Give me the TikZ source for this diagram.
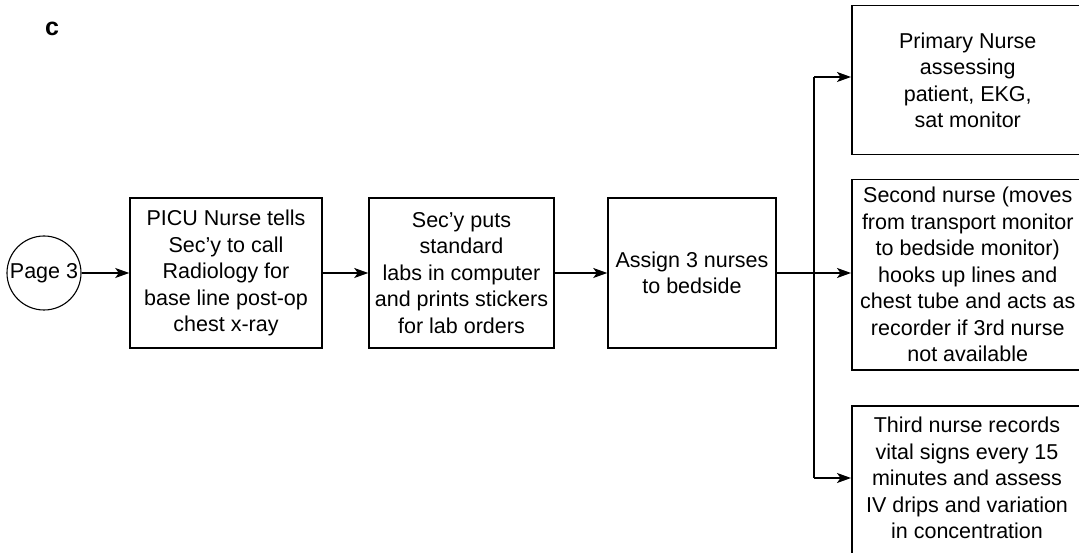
\documentclass[tikz,border=0pt]{standalone}
\usepackage{fontspec}
\setmainfont{Liberation Sans}
\usetikzlibrary{arrows.meta}
\begin{document}
\begin{tikzpicture}[x=1pt,y=-1pt,
  lbl/.style={font=\fontsize{21.5}{26.5}\selectfont},
  box/.style={draw, line width=1.5pt, align=center, inner sep=0pt, lbl},
  txt/.style={align=center, inner sep=0pt, lbl},
  arr/.style={line width=1.3pt, -{Stealth[length=14pt,width=10pt,inset=3.5pt]}},
  ln/.style={line width=1.3pt}]
\useasboundingbox (0,0) rectangle (1079,553);
\clip (0,0) rectangle (1079,553);

\node[font=\fontsize{25}{30}\selectfont\bfseries] (tag) at (52,29) {c};

\node[circle, draw, line width=1.1pt, minimum size=74pt, inner sep=0pt, lbl] (p3) at (44,273) {Page 3};

\node[box, minimum width=192pt, minimum height=150pt] (n1) at (226,273)
  {PICU Nurse tells\\Sec’y to call\\Radiology for\\base line post-op\\chest x-ray};
\node[box, minimum width=185pt, minimum height=150pt] (n2) at (461.5,273)
  {Sec’y puts\\standard\\labs in computer\\and prints stickers\\for lab orders};
\node[box, minimum width=168pt, minimum height=150pt] (n3) at (692,273)
  {Assign 3 nurses\\to bedside};

\node[box, minimum width=232pt, minimum height=149pt, anchor=north west] (n4) at (851,5)
  {Primary Nurse\\assessing\\patient, EKG,\\sat monitor};
\node[box, minimum width=232pt, minimum height=190pt, anchor=north west] (n5) at (851,179)
  {Second nurse (moves\\from transport monitor\\to bedside monitor)\\hooks up lines and\\chest tube and acts as\\recorder if 3rd nurse\\not available};
\node[box, minimum width=232pt, minimum height=170pt, anchor=north west] (n6) at (851,405) {};
\node[txt] (t6) at (967,478)
  {Third nurse records\\vital signs every 15\\minutes and assess\\IV drips and variation\\in concentration};

\coordinate (jt) at (814,77);
\coordinate (jb) at (814,478);

\draw[arr] (p3.east) -- (p3.east -| n1.west);
\draw[arr] (n1.east) -- (n2.west);
\draw[arr] (n2.east) -- (n3.west);
\draw[arr] (n3.east) -- (n3.east -| n5.west);
\draw[ln] (jt) -- (jb);
\draw[arr] (jt) -- (n4.west |- jt);
\draw[arr] (jb) -- (n6.west |- jb);
\end{tikzpicture}
\end{document}
